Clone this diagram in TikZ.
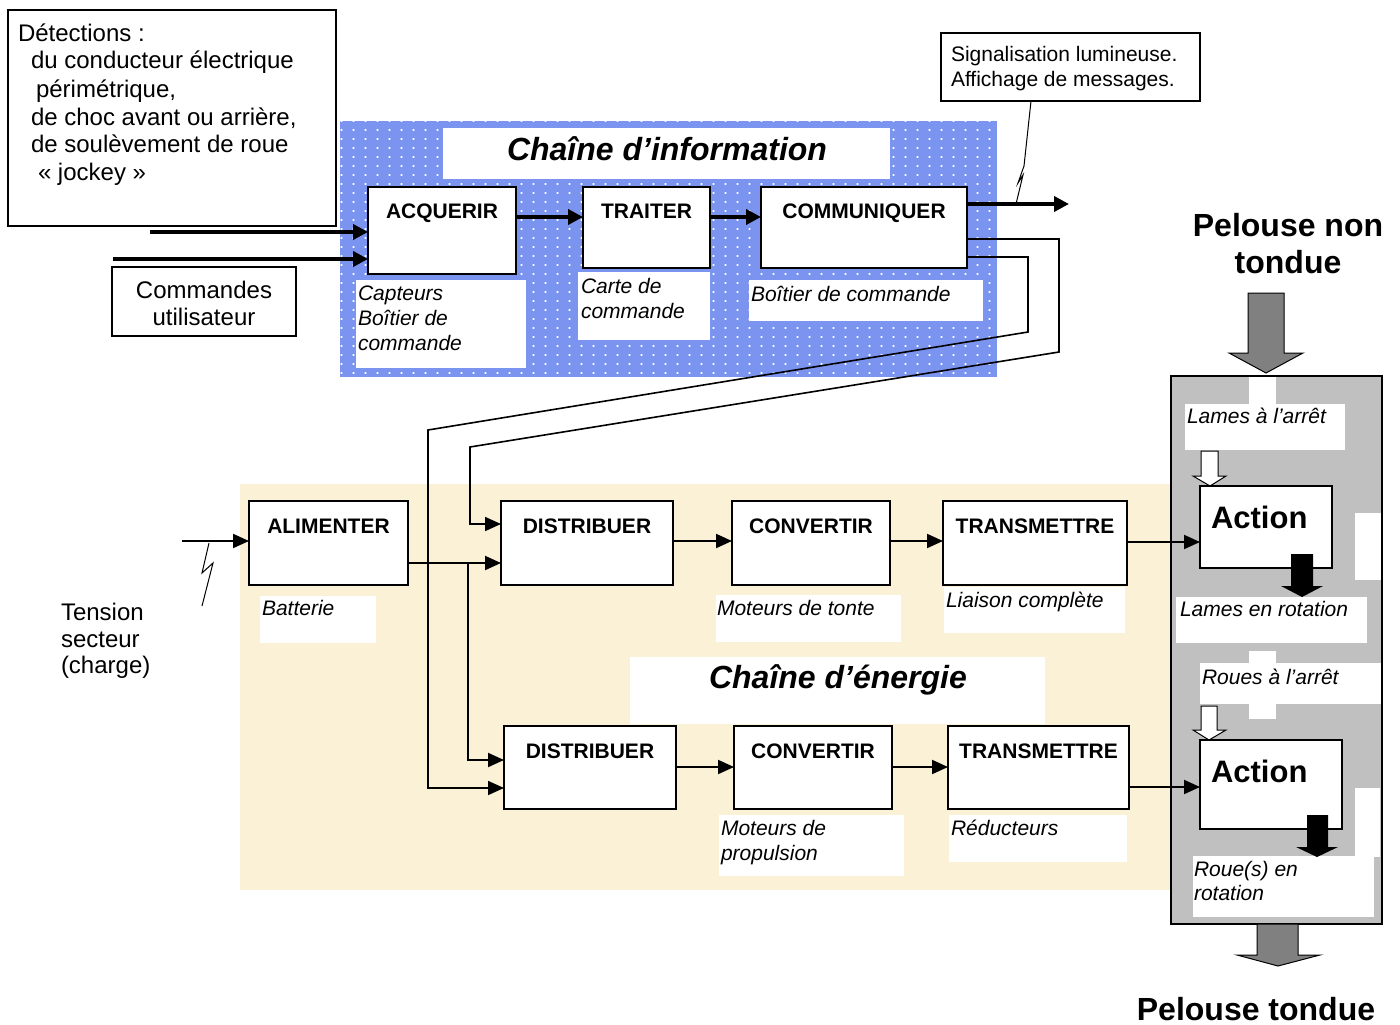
\documentclass[tikz,border=0pt]{standalone}
\usepackage{fontspec}
\setmainfont{Liberation Sans}
\usetikzlibrary{arrows.meta,patterns}
\definecolor{bluefill}{RGB}{122,148,240}
\definecolor{beige}{RGB}{250,241,214}
\definecolor{colgray}{RGB}{192,192,192}
\definecolor{arrgray}{RGB}{128,128,128}
\pgfdeclarepatternformonly{whitedots}{\pgfpointorigin}{\pgfpoint{12pt}{9pt}}{\pgfpoint{12pt}{9pt}}{%
  \pgfpathrectangle{\pgfpoint{5pt}{3.5pt}}{\pgfpoint{2pt}{1.8pt}}\pgfusepath{fill}}
\newcommand\fsreg{\fontsize{24}{28}\selectfont}
\newcommand\fsmid{\fontsize{21}{25}\selectfont}
\newcommand\fsbold{\bfseries\fontsize{21}{25}\selectfont}
\newcommand\fsital{\itshape\fontsize{21}{25}\selectfont}
\newcommand\fstitle{\bfseries\itshape\fontsize{32}{38}\selectfont}
\newcommand\fsbig{\bfseries\fontsize{32}{38}\selectfont}
\newcommand\fsact{\bfseries\fontsize{31}{37}\selectfont}
\begin{document}
\begin{tikzpicture}[x=1pt,y=-1pt,
  box/.style={draw=black, line width=1.3pt, fill=white, inner sep=0pt, outer sep=0pt, anchor=north west},
  wbox/.style={fill=white, draw=none, inner sep=0pt, outer sep=0pt, anchor=north west},
  txt/.style={inner sep=0pt, outer sep=0pt, anchor=base west},
  ctxt/.style={inner sep=0pt, outer sep=0pt, anchor=base},
  bigarr/.style={line width=4pt, -{Triangle[length=15pt,width=15pt]}},
  earr/.style={line width=2pt, -{Triangle[length=16pt,width=14pt]}},
  link/.style={line width=1.6pt},
  shapearrow/.style={draw=black, line width=1pt},
]
\fill[white] (0,0) rectangle (1400,1025);
\useasboundingbox (0,0) rectangle (1400,1025);

% ---------- information chain ----------
\fill[bluefill] (340,121) rectangle (997,377);
\fill[pattern=whitedots, pattern color=white] (340,121) rectangle (997,377);
\node[wbox, minimum width=447pt, minimum height=51pt] (tiInfo) at (443,128) {};
\node[ctxt, font=\fstitle] (tiInfoT) at (667,160) {Chaîne d’information};

\node[box, minimum width=148pt, minimum height=87pt] (acq) at (368,187) {};
\node[ctxt, font=\fsbold] (acqT) at (442,218) {ACQUERIR};
\node[box, minimum width=127pt, minimum height=81pt] (tra) at (583,187) {};
\node[ctxt, font=\fsbold] (traT) at (646.5,218) {TRAITER};
\node[box, minimum width=206pt, minimum height=81pt] (com) at (761,187) {};
\node[ctxt, font=\fsbold] (comT) at (864,218) {COMMUNIQUER};

\node[wbox, minimum width=170pt, minimum height=88pt] (capB) at (356,280) {};
\node[txt, font=\fsital] (cap1) at (358,300) {Capteurs};
\node[txt, font=\fsital] (cap2) at (358,325) {Boîtier de};
\node[txt, font=\fsital] (cap3) at (358,350) {commande};
\node[wbox, minimum width=132pt, minimum height=68pt] (carB) at (578,272) {};
\node[txt, font=\fsital] (car1) at (581,293) {Carte de};
\node[txt, font=\fsital] (car2) at (581,318) {commande};
\node[wbox, minimum width=234pt, minimum height=41pt] (boiB) at (749,280) {};
\node[txt, font=\fsital] (boi1) at (751,301) {Boîtier de commande};

% Detections box
\node[box, minimum width=328pt, minimum height=216pt] (det) at (8,10) {};
\node[txt, font=\fsreg] (det1) at (18,42) {Détections :};
\node[txt, font=\fsreg] (det2) at (31,69) {du conducteur électrique};
\node[txt, font=\fsreg] (det3) at (36,97) {périmétrique,};
\node[txt, font=\fsreg] (det4) at (31,125) {de choc avant ou arrière,};
\node[txt, font=\fsreg] (det5) at (31,152) {de soulèvement de roue};
\node[txt, font=\fsreg] (det6) at (38,180) {«~jockey~»};

% Commandes utilisateur
\node[box, minimum width=184pt, minimum height=69pt] (cmd) at (112,267) {};
\node[ctxt, font=\fsreg] (cmd1) at (204,298) {Commandes};
\node[ctxt, font=\fsreg] (cmd2) at (204,325) {utilisateur};

% Signalisation
\node[box, minimum width=259pt, minimum height=68pt] (sig) at (941,33) {};
\node[txt, font=\fsmid] (sig1) at (951,62) {Signalisation lumineuse.};
\node[txt, font=\fsmid] (sig2) at (951,86) {Affichage de messages.};

% arrows information chain
\coordinate (inDet) at (150,232);
\coordinate (inCmd) at (113,259);
\coordinate (outCom) at (1069,204);
\draw[bigarr] (inDet) -- (acq.west |- inDet);
\draw[bigarr] (inCmd) -- (acq.west |- inCmd);
\draw[bigarr] (acq.east |- 0,217) -- (tra.west |- 0,217);
\draw[bigarr] (tra.east |- 0,217) -- (com.west |- 0,217);
\draw[bigarr] (com.east |- outCom) -- (outCom);
\draw[line width=1pt] (1031,101) -- (1024,166) -- (1018,183) -- (1023,175) -- (1016,204);

% ---------- energy chain ----------
\fill[beige] (240,484) rectangle (1171,890);
\node[wbox, minimum width=415pt, minimum height=67pt] (tiEn) at (630,657) {};
\node[ctxt, font=\fstitle] (tiEnT) at (838,688) {Chaîne d’énergie};

\node[box, minimum width=159pt, minimum height=84pt] (alim) at (249,501) {};
\node[ctxt, font=\fsbold] (alimT) at (328.5,533) {ALIMENTER};
\node[box, minimum width=172pt, minimum height=84pt] (d1) at (501,501) {};
\node[ctxt, font=\fsbold] (d1T) at (587,533) {DISTRIBUER};
\node[box, minimum width=158pt, minimum height=84pt] (c1) at (732,501) {};
\node[ctxt, font=\fsbold] (c1T) at (811,533) {CONVERTIR};
\node[box, minimum width=184pt, minimum height=84pt] (t1) at (943,501) {};
\node[ctxt, font=\fsbold] (t1T) at (1035,533) {TRANSMETTRE};
\node[box, minimum width=172pt, minimum height=83pt] (d2) at (504,726) {};
\node[ctxt, font=\fsbold] (d2T) at (590,758) {DISTRIBUER};
\node[box, minimum width=158pt, minimum height=83pt] (c2) at (734,726) {};
\node[ctxt, font=\fsbold] (c2T) at (813,758) {CONVERTIR};
\node[box, minimum width=181pt, minimum height=83pt] (t2) at (948,726) {};
\node[ctxt, font=\fsbold] (t2T) at (1038.5,758) {TRANSMETTRE};

\node[wbox, minimum width=116pt, minimum height=47pt] (batB) at (260,596) {};
\node[txt, font=\fsital] (bat1) at (262,615) {Batterie};
\node[wbox, minimum width=185pt, minimum height=47pt] (mtB) at (716,595) {};
\node[txt, font=\fsital] (mt1) at (717,615) {Moteurs de tonte};
\node[wbox, minimum width=181pt, minimum height=46pt] (lcB) at (944,587) {};
\node[txt, font=\fsital] (lc1) at (946,607) {Liaison complète};
\node[wbox, minimum width=185pt, minimum height=61pt] (mpB) at (719,815) {};
\node[txt, font=\fsital] (mp1) at (721,835) {Moteurs de};
\node[txt, font=\fsital] (mp2) at (721,860) {propulsion};
\node[wbox, minimum width=178pt, minimum height=47pt] (reB) at (949,815) {};
\node[txt, font=\fsital] (re1) at (951,835) {Réducteurs};

% Tension secteur
\node[txt, font=\fsreg] (ten1) at (61,620) {Tension};
\node[txt, font=\fsreg] (ten2) at (61,647) {secteur};
\node[txt, font=\fsreg] (ten3) at (61,673) {(charge)};
\coordinate (inTen) at (182,541);
\draw[line width=1pt] (209,543) -- (202,573) -- (213,563) -- (202,606);

% ---------- right column ----------
\node[ctxt, font=\fsbig] (pnt1) at (1288,236) {Pelouse non};
\node[ctxt, font=\fsbig] (pnt2) at (1288,273) {tondue};
\draw[shapearrow, fill=arrgray] (1248,293) -- (1284,293) -- (1284,353) -- (1303,353) -- (1266,373) -- (1229,353) -- (1248,353) -- cycle;

\draw[fill=colgray, line width=1.3pt] (1171,376) rectangle (1382,924);
\fill[white] (1249,377) rectangle (1276,404);
\node[wbox, minimum width=160pt, minimum height=46pt] (laB) at (1185,404) {};
\node[txt, font=\fsital] (la1) at (1187,423) {Lames à l’arrêt};
\draw[shapearrow, fill=white] (1201,451) -- (1218,451) -- (1218,476) -- (1226,476) -- (1210,486) -- (1193,476) -- (1201,476) -- cycle;
\node[box, minimum width=132pt, minimum height=82pt] (act1) at (1200,486) {};
\node[txt, font=\fsact] (act1T) at (1211,528) {Action};
\fill[white] (1355,513) rectangle (1381,580);
\node[wbox, minimum width=191pt, minimum height=46pt] (lrB) at (1176,597) {};
\node[txt, font=\fsital] (lr1) at (1180,616) {Lames en rotation};
\fill[black] (1291,554) -- (1313,554) -- (1313,586) -- (1323,586) -- (1302,597) -- (1281,586) -- (1291,586) -- cycle;

\fill[white] (1249,651) rectangle (1276,664);
\node[wbox, minimum width=181pt, minimum height=41pt] (raB) at (1200,663) {};
\fill[white] (1249,703) rectangle (1276,719);
\node[txt, font=\fsital] (ra1) at (1202,684) {Roues à l’arrêt};
\draw[shapearrow, fill=white] (1201,706) -- (1217,706) -- (1217,730) -- (1226,730) -- (1209,740) -- (1193,730) -- (1201,730) -- cycle;
\node[box, minimum width=142pt, minimum height=89pt] (act2) at (1200,740) {};
\node[txt, font=\fsact] (act2T) at (1211,782) {Action};
\fill[white] (1355,788) rectangle (1380,857);
\node[wbox, minimum width=181pt, minimum height=61pt] (rrB) at (1193,856) {};
\node[txt, font=\fsital] (rr1) at (1194,876) {Roue(s) en};
\node[txt, font=\fsital] (rr2) at (1194,900) {rotation};
\fill[black] (1307,815) -- (1328,815) -- (1328,847) -- (1338,847) -- (1317,857) -- (1296,847) -- (1307,847) -- cycle;

\draw[shapearrow, fill=arrgray] (1257,924) -- (1298,924) -- (1298,955) -- (1320,955) -- (1278,966) -- (1237,955) -- (1257,955) -- cycle;
\node[ctxt, font=\fsbig] (pt1) at (1256,1020) {Pelouse tondue};

% ---------- connectors ----------
\draw[link, -{Triangle[length=16pt,width=14pt]}] (com.east |- 0,239) -- (1059,239) -- (1059,352) -- (470,447) -- (470,524) -- (d1.west |- 0,524);
\draw[link, -{Triangle[length=16pt,width=14pt]}] (com.east |- 0,257) -- (1028,257) -- (1028,332) -- (428,430) -- (428,788) -- (d2.west |- 0,788);
\draw[earr] (inTen) -- (alim.west |- inTen);
\draw[earr] (alim.east |- 0,563) -- (d1.west |- 0,563);
\draw[earr] (468,563) -- (468,760) -- (d2.west |- 0,760);
\draw[earr] (d1.east |- 0,541) -- (c1.west |- 0,541);
\draw[earr] (c1.east |- 0,541) -- (t1.west |- 0,541);
\draw[earr] (t1.east |- 0,542) -- (act1.west |- 0,542);
\draw[earr] (d2.east |- 0,767) -- (c2.west |- 0,767);
\draw[earr] (c2.east |- 0,767) -- (t2.west |- 0,767);
\draw[earr] (t2.east |- 0,787) -- (act2.west |- 0,787);
\end{tikzpicture}
\end{document}
